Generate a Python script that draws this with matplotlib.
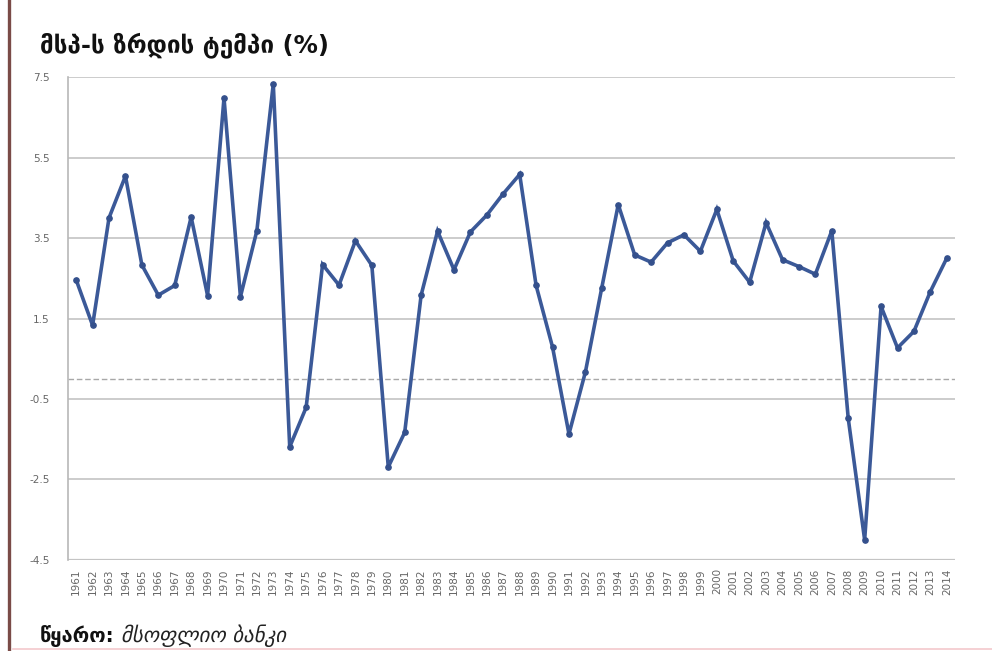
import matplotlib
matplotlib.use("Agg")
import matplotlib.pyplot as plt
from matplotlib.lines import Line2D

# GDP growth rate, annual %
years = list(range(1961, 2015))
growth = [
    2.46, 1.33, 4.00, 5.04, 2.83, 2.08, 2.32, 4.02, 2.07, 6.98,
    2.04, 3.68, 7.33, -1.69, -0.71, 2.84, 2.33, 3.43, 2.82, -2.19,
    -1.33, 2.08, 3.67, 2.71, 3.65, 4.07, 4.60, 5.08, 2.32, 0.79,
    -1.37, 0.17, 2.27, 4.33, 3.08, 2.90, 3.38, 3.58, 3.17, 4.21,
    2.93, 2.40, 3.88, 2.96, 2.79, 2.60, 3.68, -0.98, -4.00, 1.80,
    0.77, 1.18, 2.17, 3.00,
]
y_ticks = [-4.5, -2.5, -0.5, 1.5, 3.5, 5.5, 7.5]
y_tick_labels = ["-4.5", "-2.5", "-0.5", "1.5", "3.5", "5.5", "7.5"]

title = "მსპ-ს ზრდის ტემპი (%)"
source_label = "წყარო:"
source_name = "მსოფლიო ბანკი"

plt.rcParams["font.family"] = ["DejaVu Sans"]

fig = plt.figure(figsize=(9.92, 6.51), dpi=100)
ax = fig.add_axes([0.0685, 0.1398, 0.8942, 0.7419])

x = list(range(len(years)))
ax.plot(x, growth, color="#3b5998", lw=2.6, marker="o", ms=3.8,
        mfc="#34508c", mec="#34508c", zorder=3, solid_joinstyle="miter")

ax.set_xlim(-0.5, len(years) - 0.5)
ax.set_ylim(-4.5, 7.5)
ax.set_yticks(y_ticks)
ax.set_yticklabels(y_tick_labels)
ax.set_xticks(x)
ax.set_xticklabels([str(y) for y in years], rotation=90)

ax.grid(axis="y", color="#c4c4c4", lw=1.2)
ax.set_axisbelow(True)
ax.axhline(0, color="#a8a8a8", lw=1.0, ls=(0, (4, 2)), zorder=1)

for s in ("top", "right", "bottom"):
    ax.spines[s].set_visible(False)
ax.spines["left"].set_color("#b8b8b8")
ax.spines["left"].set_linewidth(1.2)
ax.axhline(-4.5, color="#c4c4c4", lw=1.6, zorder=1)

ax.tick_params(axis="both", length=0, labelsize=7.5, labelcolor="#666666")
ax.tick_params(axis="y", pad=13)
ax.tick_params(axis="x", pad=6)

fig.text(0.040, 0.930, title, fontsize=17.5, fontweight="bold",
         color="#111111", va="center", ha="left")

t1 = fig.text(0.040, 0.023, source_label, fontsize=14.5, fontweight="bold",
              color="#111111", va="center", ha="left")
fig.canvas.draw()
bb = t1.get_window_extent()
fig.text(bb.x1 / fig.bbox.width + 0.007, 0.023, source_name, fontsize=15,
         fontstyle="italic", color="#222222", va="center", ha="left")

# page edge decorations
fig.add_artist(Line2D([0.0095, 0.0095], [0, 1], color="#7a4b47", lw=2.4,
                      transform=fig.transFigure))
fig.add_artist(Line2D([0.0135, 1], [0.003, 0.003], color="#f4c8cc", lw=1.2,
                      transform=fig.transFigure))

fig.savefig("out.png", dpi=100)
